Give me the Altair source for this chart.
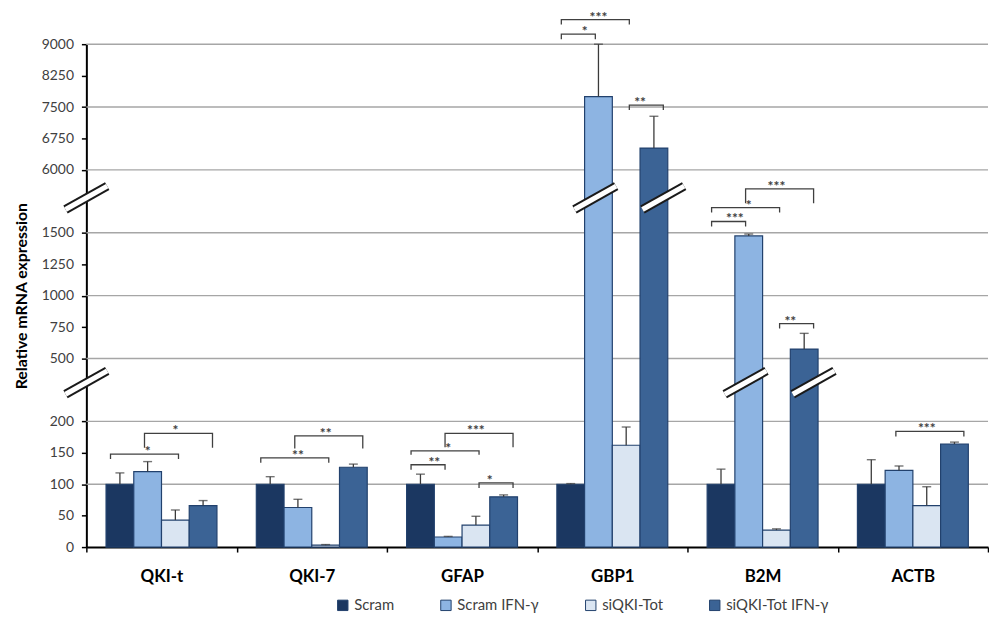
import altair as alt
import pandas as pd

genes = ["QKI-t", "QKI-7", "GFAP", "GBP1", "B2M", "ACTB"]
series = ["Scram", "Scram IFN-γ", "siQKI-Tot", "siQKI-Tot IFN-γ"]
colors = ["#1b3761", "#8db4e2", "#dae5f2", "#3b6395"]

scram = [100, 100, 100, 100, 100, 100]
scram_ifn = [120, 63, 16, 7750, 1475, 122]
siqki = [43, 3, 35, 162, 27, 66]
siqki_ifn = [66, 127, 80, 6520, 575, 164]

scram_err = [118, 112, 116, 101, 124, 139]
scram_ifn_err = [136, 76, 17, 9000, 1490, 129]
siqki_err = [59, 4, 49, 191, 29, 96]
siqki_ifn_err = [74, 132, 83, 7280, 700, 167]

y_ticks = [0, 50, 100, 150, 200, 500, 750, 1000, 1250, 1500, 6000, 6750, 7500, 8250, 9000]
grid_values = [100, 200, 500, 1000, 1500, 6000, 7500, 9000]
seg_domain = [0, 200, 500, 1500, 6000, 9000]
seg_steps = [0, 4, 6, 10, 12, 16]

# significance brackets
br_gene = ["QKI-t", "QKI-t", "QKI-7", "QKI-7", "GFAP", "GFAP", "GFAP", "GFAP",
           "GBP1", "GBP1", "GBP1", "B2M", "B2M", "B2M", "B2M", "ACTB"]
br_a = [0, 1, 0, 1, 0, 0, 1, 2, 0, 0, 2, 0, 0, 1, 2, 1]
br_b = [2, 3, 2, 3, 1, 2, 3, 3, 1, 2, 3, 1, 2, 3, 3, 3]
br_top = [148, 181, 142, 177, 131, 153, 181, 102, 9238, 9587, 7547, 2307, 3306, 4642, 778, 184]
br_end = [140, 158, 134, 157, 123, 147, 159, 94, 9120, 9470, 7428, 1950, 2950, 3620, 739, 176]
br_text = ["*", "*", "**", "**", "**", "*", "***", "*", "*", "***", "**", "***", "*", "***", "**", "***"]

# axis-break positions (values inside the gaps)
axis_breaks = [385, 4000]
bar_break_gene = ["GBP1", "GBP1", "B2M", "B2M"]
bar_break_series = ["Scram IFN-γ", "siQKI-Tot IFN-γ", "Scram IFN-γ", "siQKI-Tot IFN-γ"]
bar_break_value = [4000, 4000, 385, 385]

W, H = 909, 507
FONT = "Lato"
OUTER = 0.71
YTITLE = "Relative mRNA expression"

means = [scram, scram_ifn, siqki, siqki_ifn]
errs = [scram_err, scram_ifn_err, siqki_err, siqki_ifn_err]
rows = []
for gi, g in enumerate(genes):
    for si, s in enumerate(series):
        rows.append({"Gene": g, "Series": s, "mean": means[si][gi], "err": errs[si][gi]})
bars_df = pd.DataFrame(rows)

line_rows, star_rows = [], []
for k in range(len(br_gene)):
    a, b = series[br_a[k]], series[br_b[k]]
    pts = [(a, br_end[k]), (a, br_top[k]), (b, br_top[k]), (b, br_end[k])]
    for o, (s, v) in enumerate(pts):
        line_rows.append({"id": k, "Gene": br_gene[k], "Series": s, "y": v, "ord": o})
    star_rows.append({"Gene": br_gene[k], "mid": (br_a[k] + br_b[k]) / 2, "y": br_top[k], "t": br_text[k]})
lines_df = pd.DataFrame(line_rows)
stars_df = pd.DataFrame(star_rows)
grid_df = pd.DataFrame({"v": grid_values})
axis_break_df = pd.DataFrame({"v": axis_breaks})
bar_break_df = pd.DataFrame({"Gene": bar_break_gene, "Series": bar_break_series, "v": bar_break_value})

y_range = [H - st * H / 16 for st in seg_steps]
yscale = alt.Scale(domain=seg_domain, range=y_range, nice=False, zero=False)
xscale = alt.Scale(domain=genes, paddingInner=0, paddingOuter=0)
offscale = alt.Scale(domain=series, paddingInner=0, paddingOuter=OUTER)

x_axis = alt.Axis(labelAngle=0, labelFont=FONT, labelFontSize=17, labelFontWeight="bold",
                  labelColor="black", tickBand="extent", tickSize=5, tickColor="black",
                  tickWidth=1.5, domainColor="black", domainWidth=2, labelPadding=17,
                  title=None, grid=False)
y_axis = alt.Axis(values=y_ticks, grid=False, domainColor="black", domainWidth=2,
                  tickColor="black", tickWidth=1.5, tickSize=5, labelFont=FONT,
                  labelFontSize=14, labelColor="#404040", labelPadding=8, format="d",
                  title=YTITLE, titleFont=FONT, titleFontSize=16,
                  titleFontWeight="bold", titleColor="black", titlePadding=12)


def X():
    return alt.X("Gene:N", sort=genes, scale=xscale, axis=x_axis, title=None)


def XO():
    return alt.XOffset("Series:N", sort=series, scale=offscale)


def Y(field):
    return alt.Y(field, scale=yscale, axis=y_axis, title=YTITLE, stack=None)


grid = alt.Chart(grid_df).mark_rule(color="#a6a6a6", strokeWidth=1.4).encode(
    y=Y("v:Q")
)

bars = alt.Chart(bars_df).mark_bar(stroke="#22416d", strokeWidth=1.2).encode(
    x=X(),
    xOffset=XO(),
    y=Y("mean:Q"),
    y2=alt.datum(0),
    color=alt.Color("Series:N", scale=alt.Scale(domain=series, range=colors),
                    legend=alt.Legend(title=None, orient="none", legendX=251, legendY=558,
                                      direction="horizontal", symbolType="square",
                                      symbolSize=110, symbolStrokeColor="#22416d",
                                      symbolStrokeWidth=1, labelFont=FONT, labelFontSize=15,
                                      labelColor="#404040", columnPadding=44, labelOffset=4)),
)

err_rule = alt.Chart(bars_df).mark_rule(color="#3a3a3a", strokeWidth=1.3).encode(
    x=X(), xOffset=XO(),
    y=Y("mean:Q"), y2="err:Q",
)
err_cap = alt.Chart(bars_df).mark_tick(color="#3a3a3a", thickness=1.4, size=9).encode(
    x=X(), xOffset=XO(),
    y=Y("err:Q"),
)

SLASH = "M-1,0.56L1,-0.56"
bar_break_black = alt.Chart(bar_break_df).mark_point(
    shape=SLASH, size=1764, filled=False, color="#1a1a1a", strokeWidth=9, opacity=1, strokeCap="butt"
).encode(x=X(), xOffset=XO(), y=Y("v:Q"))
bar_break_white = alt.Chart(bar_break_df).mark_point(
    shape=SLASH, size=1764, filled=False, color="white", strokeWidth=5, opacity=1, strokeCap="butt"
).encode(x=X(), xOffset=XO(), y=Y("v:Q"))

axis_break_black = alt.Chart(axis_break_df).mark_point(
    shape=SLASH, size=1764, filled=False, color="#1a1a1a", strokeWidth=9, opacity=1, strokeCap="butt"
).encode(x=alt.value(0), y=Y("v:Q"))
axis_break_white = alt.Chart(axis_break_df).mark_point(
    shape=SLASH, size=1764, filled=False, color="white", strokeWidth=5, opacity=1, strokeCap="butt"
).encode(x=alt.value(0), y=Y("v:Q"))

brackets = alt.Chart(lines_df).mark_line(color="#404040", strokeWidth=1.3).encode(
    x=X(), xOffset=XO(),
    y=Y("y:Q"),
    detail="id:N", order="ord:Q",
)

stars = alt.Chart(stars_df).mark_text(font=FONT, fontSize=14, fontWeight="bold", color="#404040",
                                      baseline="alphabetic", dy=2).encode(
    x=X(),
    xOffset=alt.XOffset("mid:Q", scale=alt.Scale(domain=[-0.5 - OUTER, 3.5 + OUTER],
                                                 nice=False, zero=False)),
    y=Y("y:Q"),
    text="t:N",
)

chart = alt.layer(
    grid, bars, err_rule, err_cap, bar_break_black, bar_break_white,
    axis_break_black, axis_break_white, brackets, stars
).resolve_scale(xOffset="independent").properties(
    width=W, height=H, background="white",
    padding={"left": 5, "top": 0, "right": 0, "bottom": 0}
).configure_view(stroke=None)

chart.save("out.html", embed_options={"renderer": "svg", "actions": False})
